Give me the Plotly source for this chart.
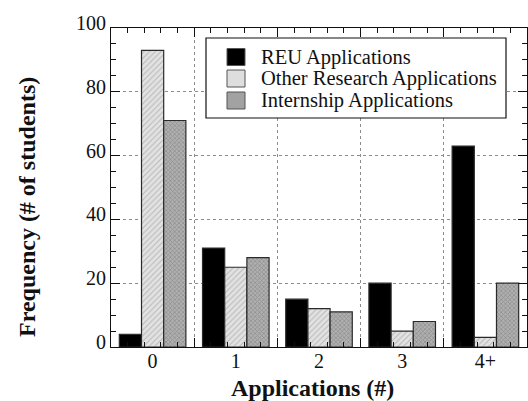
import plotly.graph_objects as go

categories = ["0", "1", "2", "3", "4+"]
reu_apps = [4, 31, 15, 20, 63]
other_research_apps = [93, 25, 12, 5, 3]
internship_apps = [71, 28, 11, 8, 20]

series_names = ["REU Applications", "Other Research Applications", "Internship Applications"]
swatch_colors = ["#000000", "#dedede", "#a2a2a2"]

x_pos = list(range(len(categories)))
serif = "Liberation Serif"
ink = "#111111"
edge = dict(color="#2a2a2a", width=1.2)

W, H = 528, 401
ML, MR, MT, MB = 111, 1, 28, 54
PW, PH = W - ML - MR, H - MT - MB


def fx(px):
    """pixel column -> paper x"""
    return (px - ML) / PW


def fy(py):
    """pixel row -> paper y"""
    return (H - MB - py) / PH


fig = go.Figure()
fig.add_trace(go.Bar(
    x=x_pos, y=reu_apps, name=series_names[0],
    marker=dict(color="#000000", line=edge),
))
fig.add_trace(go.Bar(
    x=x_pos, y=other_research_apps, name=series_names[1],
    marker=dict(color="#e2e2e2", line=edge,
                pattern=dict(shape="/", fgcolor="#b8b8b8", bgcolor="#e2e2e2",
                             size=4, solidity=0.25, fillmode="replace")),
))
fig.add_trace(go.Bar(
    x=x_pos, y=internship_apps, name=series_names[2],
    marker=dict(color="#a4a4a4", line=edge,
                pattern=dict(shape="x", fgcolor="#8a8a8a", bgcolor="#b0b0b0",
                             size=3, solidity=0.4, fillmode="replace")),
))
# helper trace so the tick/grid axis is drawn
fig.add_trace(go.Scatter(x=[-0.5, 4.5], y=[0, 0], xaxis="x2", mode="markers",
                         marker=dict(opacity=0), showlegend=False, hoverinfo="skip"))

# boxed key in the upper right
shapes = [dict(type="rect", xref="paper", yref="paper", layer="above",
               x0=fx(206), x1=fx(506), y0=fy(118), y1=fy(38),
               fillcolor="white", line=dict(color=ink, width=1.2))]
annotations = []
row_centers = [57, 78.5, 100.5]
for name, col, yc in zip(series_names, swatch_colors, row_centers):
    shapes.append(dict(type="rect", xref="paper", yref="paper", layer="above",
                       x0=fx(227), x1=fx(245), y0=fy(yc + 8.5), y1=fy(yc - 8.5),
                       fillcolor=col, line=dict(color="#555555", width=1)))
    annotations.append(dict(xref="paper", yref="paper", x=fx(259), y=fy(yc),
                            xanchor="left", yanchor="middle", showarrow=False,
                            text=name, font=dict(family=serif, size=20.5, color=ink)))

# axis titles
annotations.append(dict(xref="paper", yref="paper", x=fx(312), y=fy(388),
                        xanchor="center", yanchor="middle", showarrow=False,
                        text="<b>Applications (#)</b>",
                        font=dict(family=serif, size=24, color=ink)))
annotations.append(dict(xref="paper", yref="paper", x=fx(27), y=fy(207),
                        xanchor="center", yanchor="middle", showarrow=False,
                        textangle=-90, text="<b>Frequency (# of students)</b>",
                        font=dict(family=serif, size=24, color=ink)))

fig.update_layout(
    width=W, height=H,
    margin=dict(l=ML, r=MR, t=MT, b=MB),
    paper_bgcolor="white", plot_bgcolor="white",
    barmode="group", bargap=0.2, bargroupgap=0,
    font=dict(family=serif, size=20, color=ink),
    showlegend=False,
    shapes=shapes, annotations=annotations,
    xaxis=dict(
        range=[-0.5, 4.5], tickmode="array", tickvals=x_pos, ticktext=categories,
        ticks="outside", ticklen=0, tickcolor="rgba(0,0,0,0)",
        showgrid=False, zeroline=False,
        showline=True, linecolor=ink, linewidth=1.2, mirror=True,
        tickfont=dict(family=serif, size=20),
        ticklabelstandoff=-4,
    ),
    xaxis2=dict(
        overlaying="x", side="bottom", anchor="y", range=[-0.5, 4.5],
        tick0=0.5, dtick=1, ticks="inside", ticklen=9, tickwidth=1.3, tickcolor=ink,
        showticklabels=False, showgrid=True, gridcolor="#8c8c8c", griddash="dot",
        gridwidth=1, zeroline=False, showline=True, linecolor=ink, linewidth=1.2,
        mirror="ticks",
        minor=dict(ticks="inside", dtick=0.2, tick0=0.5, ticklen=5, tickwidth=1.2,
                   tickcolor=ink, showgrid=False),
    ),
    yaxis=dict(
        range=[0, 100], tick0=0, dtick=20, ticks="inside", ticklen=9, tickwidth=1.3,
        tickcolor=ink, showgrid=True, gridcolor="#8c8c8c", griddash="dot",
        gridwidth=1, zeroline=False,
        showline=True, linecolor=ink, linewidth=1.2, mirror="ticks",
        minor=dict(ticks="inside", dtick=5, ticklen=5, tickwidth=1.2, tickcolor=ink,
                   showgrid=False),
        tickfont=dict(family=serif, size=20),
        ticklabelshift=-5,
    ),
)

fig.write_html("out.html")
